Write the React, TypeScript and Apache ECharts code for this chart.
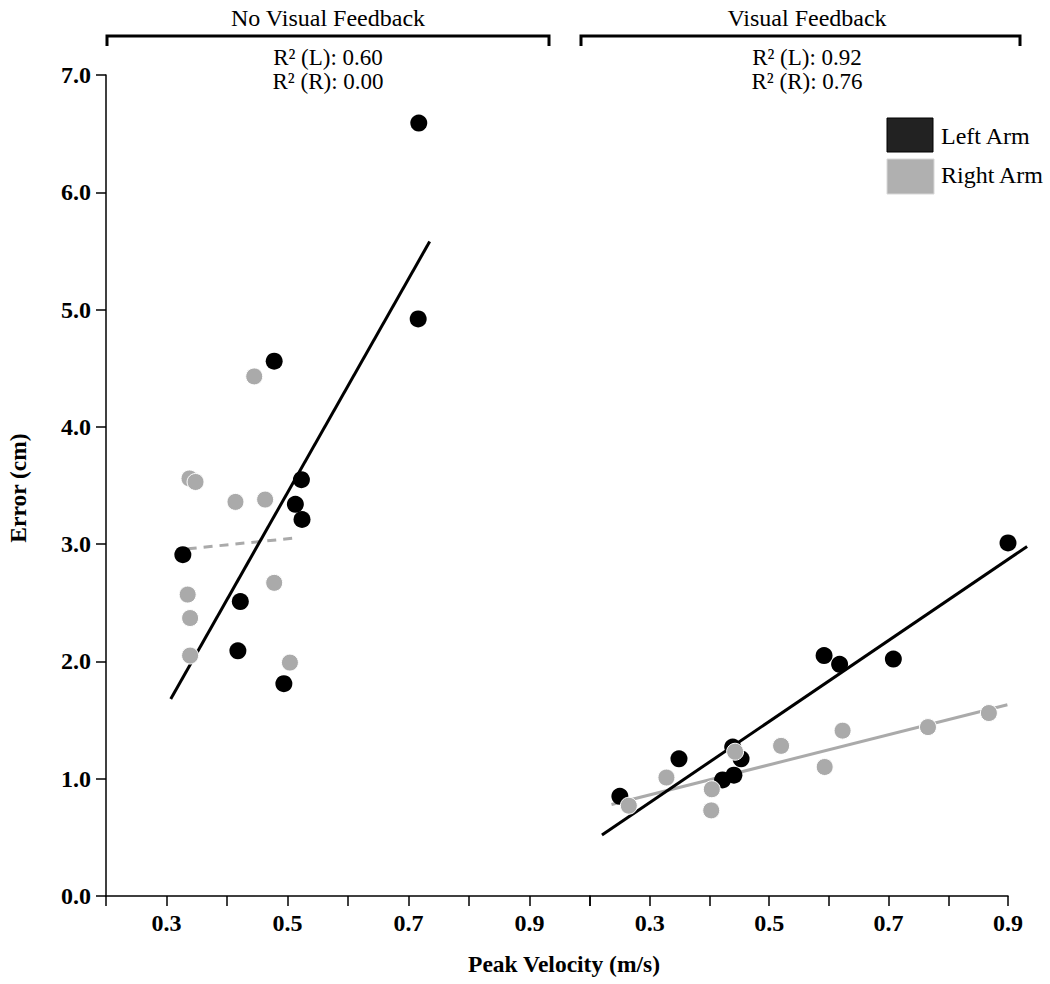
import React, { useEffect, useRef } from "react";
import * as echarts from "echarts";

// ---- Data (Peak Velocity m/s, Error cm) ----
const panelTitles = ["No Visual Feedback", "Visual Feedback"];
const r2Labels = [
  ["R² (L): 0.60", "R² (R): 0.00"],
  ["R² (L): 0.92", "R² (R): 0.76"],
];
const legendNames = ["Left Arm", "Right Arm"];

const noVfLeft: number[][] = [
  [0.717, 6.59], [0.716, 4.92], [0.478, 4.56], [0.523, 3.55], [0.513, 3.34],
  [0.524, 3.21], [0.327, 2.91], [0.422, 2.51], [0.418, 2.09], [0.494, 1.81],
];
const noVfRight: number[][] = [
  [0.445, 4.43], [0.338, 3.56], [0.348, 3.53], [0.414, 3.36], [0.463, 3.38],
  [0.478, 2.67], [0.335, 2.57], [0.339, 2.37], [0.339, 2.05], [0.504, 1.99],
];
const noVfLeftFit: number[][] = [[0.307, 1.68], [0.735, 5.58]];
const noVfRightFit: number[][] = [[0.335, 2.96], [0.508, 3.05]];

const vfLeft: number[][] = [
  [0.25, 0.85], [0.349, 1.17], [0.422, 0.99], [0.441, 1.03], [0.439, 1.27],
  [0.453, 1.17], [0.592, 2.05], [0.618, 1.975], [0.708, 2.02], [0.9, 3.01],
];
const vfRight: number[][] = [
  [0.265, 0.77], [0.328, 1.01], [0.404, 0.91], [0.403, 0.73], [0.443, 1.23],
  [0.52, 1.28], [0.593, 1.1], [0.623, 1.41], [0.766, 1.44], [0.868, 1.56],
];
const vfLeftFit: number[][] = [[0.22, 0.52], [0.932, 2.98]];
const vfRightFit: number[][] = [[0.236, 0.78], [0.899, 1.63]];

const FONT = "'Liberation Serif', 'Times New Roman', serif";
const BLACK = "#000000";
const GRAY = "#aaaaaa";

const xLabelFmt = (v: number) => {
  const k = Math.round(v * 10);
  return k % 2 === 1 ? (k / 10).toFixed(1) : "";
};

export default function App() {
  const ref = useRef<HTMLDivElement>(null);
  useEffect(() => {
    if (!ref.current) return;
    const chart = echarts.init(ref.current, undefined, { renderer: "svg" });

    const xAxisBase = (gridIndex: number, max: number) => ({
      type: "value",
      gridIndex,
      min: 0.2,
      max,
      interval: 0.1,
      axisLine: { show: true, onZero: false, lineStyle: { color: BLACK, width: 1.5 } },
      axisTick: { show: true, length: 10, inside: false, lineStyle: { color: BLACK, width: 1.5 } },
      axisLabel: {
        formatter: xLabelFmt,
        color: BLACK,
        fontFamily: FONT,
        fontWeight: "bold",
        fontSize: 24,
        margin: 15,
        showMinLabel: true,
        showMaxLabel: true,
      },
      splitLine: { show: false },
    });

    const scatter = (data: number[][], idx: number, color: string, gray: boolean) => ({
      type: "scatter",
      xAxisIndex: idx,
      yAxisIndex: idx,
      data,
      symbolSize: 17,
      z: 4,
      itemStyle: gray
        ? { color, borderColor: "#ffffff", borderWidth: 1, opacity: 1 }
        : { color, opacity: 1 },
    });
    const fit = (data: number[][], idx: number, color: string, dashed: boolean) => ({
      type: "line",
      xAxisIndex: idx,
      yAxisIndex: idx,
      data,
      symbol: "none",
      clip: false,
      z: 3,
      lineStyle: { color, width: 3, type: dashed ? [9, 7] : "solid" },
    });

    const headerTexts: any[] = [];
    const centers = [328, 807];
    centers.forEach((cx, i) => {
      headerTexts.push({
        type: "text",
        x: cx,
        y: 18,
        style: {
          text: panelTitles[i],
          fontFamily: FONT,
          fontSize: 24,
          fill: BLACK,
          align: "center",
          verticalAlign: "middle",
        },
      });
      r2Labels[i].forEach((t, j) => {
        headerTexts.push({
          type: "text",
          x: cx,
          y: 57 + j * 24,
          style: {
            text: t,
            fontFamily: FONT,
            fontSize: 23,
            fill: BLACK,
            align: "center",
            verticalAlign: "middle",
          },
        });
      });
    });

    chart.setOption({
      animation: false,
      backgroundColor: "#ffffff",
      grid: [
        { left: 106, top: 75, width: 484, height: 821 },
        { left: 590, top: 75, width: 418, height: 821 },
        // hidden helper grid on the same scale as grid 1, reaching 0.95, so the fit line can overrun 0.9
        { left: 590, top: 75, width: (418 * 7.5) / 7, height: 821 },
      ],
      xAxis: [
        xAxisBase(0, 1.0),
        xAxisBase(1, 0.9),
        { type: "value", gridIndex: 2, min: 0.2, max: 0.95, show: false },
      ],
      yAxis: [
        {
          type: "value",
          gridIndex: 0,
          min: 0,
          max: 7,
          interval: 1,
          axisLine: { show: true, lineStyle: { color: BLACK, width: 1.5 } },
          axisTick: { show: true, length: 10, lineStyle: { color: BLACK, width: 1.5 } },
          axisLabel: {
            formatter: (v: number) => v.toFixed(1),
            color: BLACK,
            fontFamily: FONT,
            fontWeight: "bold",
            fontSize: 24,
            margin: 15,
          },
          splitLine: { show: false },
        },
        { type: "value", gridIndex: 1, min: 0, max: 7, interval: 1, show: false },
        { type: "value", gridIndex: 2, min: 0, max: 7, interval: 1, show: false },
      ],
      series: [
        fit(noVfRightFit, 0, GRAY, true),
        fit(noVfLeftFit, 0, BLACK, false),
        scatter(noVfLeft, 0, BLACK, false),
        scatter(noVfRight, 0, GRAY, true),
        fit(vfRightFit, 1, GRAY, false),
        fit(vfLeftFit, 2, BLACK, false),
        scatter(vfLeft, 1, BLACK, false),
        scatter(vfRight, 1, GRAY, true),
      ],
      graphic: [
        ...headerTexts,
        {
          type: "polyline",
          shape: { points: [[107, 46], [107, 36], [549, 36], [549, 46]] },
          style: { stroke: BLACK, lineWidth: 3, fill: null },
        },
        {
          type: "polyline",
          shape: { points: [[581, 46], [581, 36], [1020, 36], [1020, 46]] },
          style: { stroke: BLACK, lineWidth: 3, fill: null },
        },
        {
          type: "rect",
          shape: { x: 887, y: 118, width: 46, height: 34 },
          style: { fill: "#222222", stroke: "#000000", lineWidth: 1 },
        },
        {
          type: "rect",
          shape: { x: 887, y: 159, width: 47, height: 35 },
          style: { fill: "#b0b0b0", stroke: "#d8d8d8", lineWidth: 1 },
        },
        {
          type: "text",
          x: 941,
          y: 136,
          style: { text: legendNames[0], fontFamily: FONT, fontSize: 24, fill: BLACK, align: "left", verticalAlign: "middle" },
        },
        {
          type: "text",
          x: 941,
          y: 175,
          style: { text: legendNames[1], fontFamily: FONT, fontSize: 24, fill: BLACK, align: "left", verticalAlign: "middle" },
        },
        {
          type: "text",
          x: 18,
          y: 488,
          rotation: Math.PI / 2,
          style: { text: "Error (cm)", fontFamily: FONT, fontSize: 23.5, fontWeight: "bold", fill: BLACK, align: "center", verticalAlign: "middle" },
        },
        {
          type: "text",
          x: 564,
          y: 964,
          style: { text: "Peak Velocity (m/s)", fontFamily: FONT, fontSize: 23.5, fontWeight: "bold", fill: BLACK, align: "center", verticalAlign: "middle" },
        },
      ],
    });
    return () => chart.dispose();
  }, []);
  return (
    <div
      ref={ref}
      style={{ position: "absolute", left: 0, top: 0, width: 1050, height: 984 }}
    />
  );
}
